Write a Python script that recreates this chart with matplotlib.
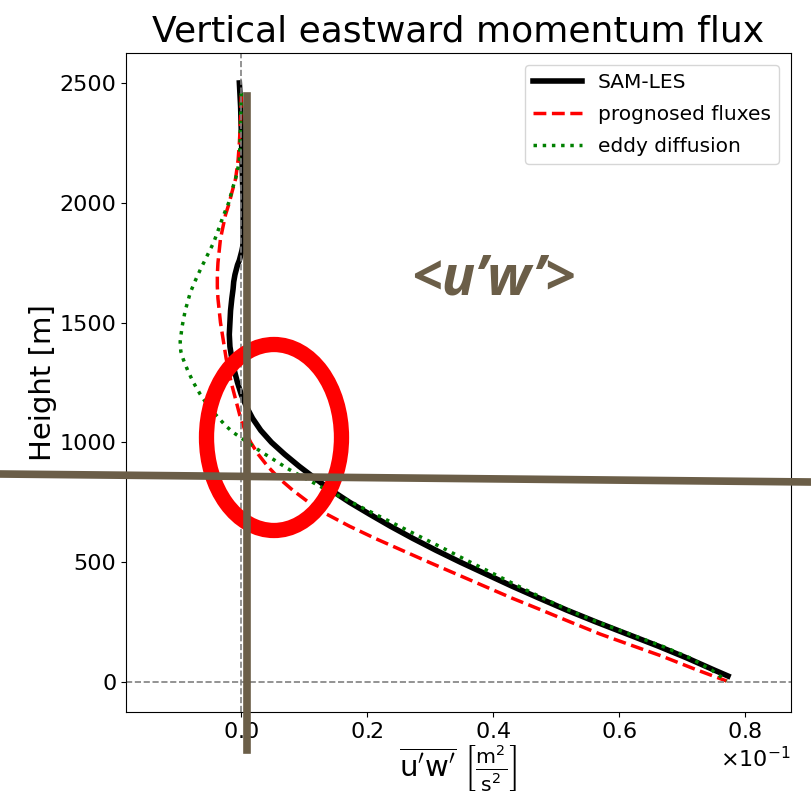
import matplotlib
matplotlib.use('Agg')
import matplotlib.pyplot as plt
from matplotlib.patches import Ellipse
from matplotlib.lines import Line2D
import numpy as np

# flux values given in units of 1e-1 m^2/s^2, heights in m
sam_height = [2500, 2400, 2300, 2200, 2100, 2000, 1900, 1850, 1820, 1800, 1780, 1760, 1740, 1720,
              1700, 1670, 1640, 1600, 1550, 1500, 1450, 1400, 1350, 1300, 1250, 1200, 1150, 1100,
              1050, 1000, 950, 900, 850, 800, 750, 700, 650, 600, 550, 500, 450, 400, 350, 300,
              250, 200, 150, 100, 50, 25]
sam_flux = [-0.003, -0.001, 0.0, 0.001, 0.002, 0.003, 0.003, 0.003, 0.0025, 0.001, -0.001, -0.003,
            -0.006, -0.008, -0.010, -0.012, -0.013, -0.015, -0.017, -0.018, -0.019, -0.018,
            -0.015, -0.011, -0.006, 0.000, 0.008, 0.018, 0.031, 0.048, 0.069, 0.092, 0.117,
            0.143, 0.172, 0.204, 0.237, 0.272, 0.309, 0.348, 0.389, 0.430, 0.473, 0.517, 0.564,
            0.613, 0.662, 0.708, 0.751, 0.773]

prog_height = [2450, 2350, 2250, 2179, 2100, 2042, 2000, 1950, 1900, 1850, 1800, 1750, 1700,
               1650, 1600, 1550, 1500, 1450, 1400, 1350, 1300, 1250, 1200, 1150, 1100, 1050,
               1000, 950, 900, 850, 800, 750, 700, 650, 600, 550, 500, 450, 400, 350, 300, 250,
               200, 150, 108, 50, 4]
prog_flux = [0.000, -0.001, -0.003, -0.005, -0.009, -0.015, -0.019, -0.025, -0.029, -0.033,
             -0.035, -0.037, -0.038, -0.038, -0.037, -0.035, -0.033, -0.030, -0.027, -0.024,
             -0.020, -0.016, -0.011, -0.006, -0.001, 0.006, 0.015, 0.027, 0.042, 0.060, 0.082,
             0.107, 0.136, 0.172, 0.212, 0.255, 0.298, 0.342, 0.386, 0.430, 0.477, 0.523, 0.570,
             0.623, 0.668, 0.724, 0.771]

eddy_height = [2458, 2350, 2250, 2179, 2120, 2067, 2000, 1942, 1890, 1833, 1780, 1721, 1675,
               1625, 1550, 1483, 1420, 1380, 1346, 1300, 1250, 1200, 1150, 1108, 1070, 1042,
               1000, 960, 929, 890, 858, 804, 762, 700, 650, 600, 550, 500, 450, 400, 350, 300,
               250, 200, 146, 100, 50, 4]
eddy_flux = [0.000, -0.001, -0.002, -0.003, -0.007, -0.013, -0.020, -0.029, -0.036, -0.044,
             -0.054, -0.065, -0.073, -0.081, -0.089, -0.094, -0.097, -0.096, -0.092, -0.085,
             -0.076, -0.065, -0.052, -0.038, -0.025, -0.013, 0.010, 0.032, 0.051, 0.074, 0.096,
             0.134, 0.166, 0.213, 0.251, 0.289, 0.327, 0.364, 0.402, 0.440, 0.479, 0.520, 0.566,
             0.617, 0.672, 0.713, 0.747, 0.771]

labels = ['SAM-LES', 'prognosed fluxes', 'eddy diffusion']
brown = '#6b5e48'

fig = plt.figure(figsize=(8.11, 7.97), dpi=100)
ax = fig.add_axes([0.1554, 0.1067, 0.8199, 0.8268])

ax.plot(np.array(sam_flux) * 1e-1, sam_height, color='k', lw=4, label=labels[0])
ax.plot(np.array(prog_flux) * 1e-1, prog_height, color='r', lw=2.5, ls='--', label=labels[1])
ax.plot(np.array(eddy_flux) * 1e-1, eddy_height, color='g', lw=2.5, ls=':', label=labels[2])
ax.axvline(0, color='gray', ls='--', lw=1.2)
ax.axhline(0, color='gray', ls='--', lw=1.2)

ax.set_xlim(-0.0183, 0.0873)
ax.set_ylim(-125, 2625)
ax.set_xticks([0.0, 0.02, 0.04, 0.06, 0.08])
ax.set_yticks([0, 500, 1000, 1500, 2000, 2500])
ax.ticklabel_format(axis='x', style='sci', scilimits=(-1, -1), useMathText=True)
ax.tick_params(labelsize=16)
ax.xaxis.get_offset_text().set_fontsize(16)

ax.set_title('Vertical eastward momentum flux', fontsize=26, pad=8)
ax.set_ylabel('Height [m]', fontsize=21, labelpad=2)
ax.set_xlabel(r"$\overline{\mathrm{u'w'}}\ \left[\frac{\mathrm{m}^2}{\mathrm{s}^2}\right]$",
              fontsize=21, labelpad=1)
ax.legend(loc='upper right', fontsize=14.5, handlelength=2.4, labelspacing=0.65,
          borderaxespad=0.6)

# annotations drawn over the figure
fig.add_artist(Line2D([247 / 811, 247 / 811], [1 - 96 / 797, 1 - 750 / 797], color=brown, lw=5.5,
                      transform=fig.transFigure))
fig.add_artist(Line2D([0, 1], [1 - 474 / 797, 1 - 482 / 797], color=brown, lw=5.5,
                      transform=fig.transFigure))
fig.add_artist(Ellipse((274 / 811, 1 - 437.5 / 797), 135 / 811, 186 / 797, fill=False,
                       edgecolor='red', lw=11, transform=fig.transFigure))
fig.text(493 / 811, 1 - 280 / 797, '<u’w’>', color=brown, fontsize=40, family='Open Sans',
         fontweight='bold', fontstyle='italic', ha='center', va='center')

fig.savefig('out.png', dpi=100)
